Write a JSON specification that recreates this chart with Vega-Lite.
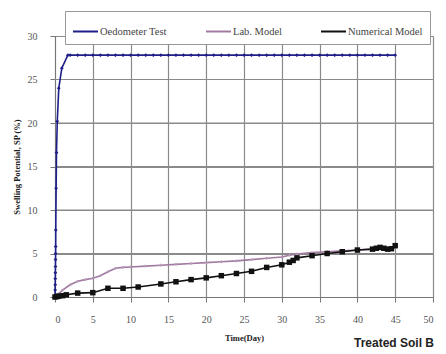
{
  "$schema": "https://vega.github.io/schema/vega-lite/v6.json",
  "width": 378,
  "height": 261,
  "autosize": {"type": "none"},
  "padding": {"left": 55, "top": 36, "right": 13, "bottom": 57},
  "background": "white",
  "title": {
    "text": "Treated Soil B",
    "orient": "bottom",
    "anchor": "start",
    "dx": 342,
    "offset": -4,
    "font": "Liberation Sans",
    "fontWeight": "bold",
    "fontSize": 12,
    "color": "#222"
  },
  "datasets": {
    "series": [
      {"time": 0, "sp": 0, "series": "Oedometer Test"},
      {"time": 0.01, "sp": 0.2, "series": "Oedometer Test"},
      {"time": 0.02, "sp": 0.8, "series": "Oedometer Test"},
      {"time": 0.03, "sp": 1.4, "series": "Oedometer Test"},
      {"time": 0.04, "sp": 2.1, "series": "Oedometer Test"},
      {"time": 0.05, "sp": 2.8, "series": "Oedometer Test"},
      {"time": 0.06, "sp": 3.5, "series": "Oedometer Test"},
      {"time": 0.07, "sp": 4.3, "series": "Oedometer Test"},
      {"time": 0.08, "sp": 5.0, "series": "Oedometer Test"},
      {"time": 0.09, "sp": 5.8, "series": "Oedometer Test"},
      {"time": 0.1, "sp": 7.7, "series": "Oedometer Test"},
      {"time": 0.15, "sp": 12.5, "series": "Oedometer Test"},
      {"time": 0.2, "sp": 16.6, "series": "Oedometer Test"},
      {"time": 0.3, "sp": 20.2, "series": "Oedometer Test"},
      {"time": 0.5, "sp": 24.0, "series": "Oedometer Test"},
      {"time": 0.9, "sp": 26.3, "series": "Oedometer Test"},
      {"time": 1.7, "sp": 27.8, "series": "Oedometer Test"},
      {"time": 2, "sp": 27.8, "series": "Oedometer Test"},
      {"time": 3, "sp": 27.8, "series": "Oedometer Test"},
      {"time": 4, "sp": 27.8, "series": "Oedometer Test"},
      {"time": 5, "sp": 27.8, "series": "Oedometer Test"},
      {"time": 6, "sp": 27.8, "series": "Oedometer Test"},
      {"time": 7, "sp": 27.8, "series": "Oedometer Test"},
      {"time": 8, "sp": 27.8, "series": "Oedometer Test"},
      {"time": 9, "sp": 27.8, "series": "Oedometer Test"},
      {"time": 10, "sp": 27.8, "series": "Oedometer Test"},
      {"time": 11, "sp": 27.8, "series": "Oedometer Test"},
      {"time": 12, "sp": 27.8, "series": "Oedometer Test"},
      {"time": 13, "sp": 27.8, "series": "Oedometer Test"},
      {"time": 14, "sp": 27.8, "series": "Oedometer Test"},
      {"time": 15, "sp": 27.8, "series": "Oedometer Test"},
      {"time": 16, "sp": 27.8, "series": "Oedometer Test"},
      {"time": 17, "sp": 27.8, "series": "Oedometer Test"},
      {"time": 18, "sp": 27.8, "series": "Oedometer Test"},
      {"time": 19, "sp": 27.8, "series": "Oedometer Test"},
      {"time": 20, "sp": 27.8, "series": "Oedometer Test"},
      {"time": 21, "sp": 27.8, "series": "Oedometer Test"},
      {"time": 22, "sp": 27.8, "series": "Oedometer Test"},
      {"time": 23, "sp": 27.8, "series": "Oedometer Test"},
      {"time": 24, "sp": 27.8, "series": "Oedometer Test"},
      {"time": 25, "sp": 27.8, "series": "Oedometer Test"},
      {"time": 26, "sp": 27.8, "series": "Oedometer Test"},
      {"time": 27, "sp": 27.8, "series": "Oedometer Test"},
      {"time": 28, "sp": 27.8, "series": "Oedometer Test"},
      {"time": 29, "sp": 27.8, "series": "Oedometer Test"},
      {"time": 30, "sp": 27.8, "series": "Oedometer Test"},
      {"time": 31, "sp": 27.8, "series": "Oedometer Test"},
      {"time": 32, "sp": 27.8, "series": "Oedometer Test"},
      {"time": 33, "sp": 27.8, "series": "Oedometer Test"},
      {"time": 34, "sp": 27.8, "series": "Oedometer Test"},
      {"time": 35, "sp": 27.8, "series": "Oedometer Test"},
      {"time": 36, "sp": 27.8, "series": "Oedometer Test"},
      {"time": 37, "sp": 27.8, "series": "Oedometer Test"},
      {"time": 38, "sp": 27.8, "series": "Oedometer Test"},
      {"time": 39, "sp": 27.8, "series": "Oedometer Test"},
      {"time": 40, "sp": 27.8, "series": "Oedometer Test"},
      {"time": 41, "sp": 27.8, "series": "Oedometer Test"},
      {"time": 42, "sp": 27.8, "series": "Oedometer Test"},
      {"time": 43, "sp": 27.8, "series": "Oedometer Test"},
      {"time": 44, "sp": 27.8, "series": "Oedometer Test"},
      {"time": 45, "sp": 27.8, "series": "Oedometer Test"},
      {"time": 0, "sp": 0, "series": "Lab. Model"},
      {"time": 0.5, "sp": 0.4, "series": "Lab. Model"},
      {"time": 1, "sp": 0.8, "series": "Lab. Model"},
      {"time": 2, "sp": 1.4, "series": "Lab. Model"},
      {"time": 3, "sp": 1.8, "series": "Lab. Model"},
      {"time": 4, "sp": 2.0, "series": "Lab. Model"},
      {"time": 5, "sp": 2.15, "series": "Lab. Model"},
      {"time": 6, "sp": 2.45, "series": "Lab. Model"},
      {"time": 7, "sp": 2.9, "series": "Lab. Model"},
      {"time": 8, "sp": 3.3, "series": "Lab. Model"},
      {"time": 9, "sp": 3.4, "series": "Lab. Model"},
      {"time": 10, "sp": 3.45, "series": "Lab. Model"},
      {"time": 12, "sp": 3.55, "series": "Lab. Model"},
      {"time": 14, "sp": 3.65, "series": "Lab. Model"},
      {"time": 16, "sp": 3.75, "series": "Lab. Model"},
      {"time": 18, "sp": 3.85, "series": "Lab. Model"},
      {"time": 20, "sp": 3.95, "series": "Lab. Model"},
      {"time": 22, "sp": 4.05, "series": "Lab. Model"},
      {"time": 24, "sp": 4.15, "series": "Lab. Model"},
      {"time": 26, "sp": 4.3, "series": "Lab. Model"},
      {"time": 28, "sp": 4.45, "series": "Lab. Model"},
      {"time": 30, "sp": 4.6, "series": "Lab. Model"},
      {"time": 31, "sp": 4.8, "series": "Lab. Model"},
      {"time": 32, "sp": 4.95, "series": "Lab. Model"},
      {"time": 34, "sp": 5.1, "series": "Lab. Model"},
      {"time": 36, "sp": 5.2, "series": "Lab. Model"},
      {"time": 38, "sp": 5.3, "series": "Lab. Model"},
      {"time": 40, "sp": 5.4, "series": "Lab. Model"},
      {"time": 42, "sp": 5.5, "series": "Lab. Model"},
      {"time": 44, "sp": 5.6, "series": "Lab. Model"},
      {"time": 45, "sp": 5.65, "series": "Lab. Model"},
      {"time": 0, "sp": 0, "series": "Numerical Model"},
      {"time": 0.25, "sp": 0.05, "series": "Numerical Model"},
      {"time": 0.5, "sp": 0.1, "series": "Numerical Model"},
      {"time": 1, "sp": 0.15, "series": "Numerical Model"},
      {"time": 1.5, "sp": 0.25, "series": "Numerical Model"},
      {"time": 3, "sp": 0.45, "series": "Numerical Model"},
      {"time": 5, "sp": 0.5, "series": "Numerical Model"},
      {"time": 7, "sp": 1.0, "series": "Numerical Model"},
      {"time": 9, "sp": 1.0, "series": "Numerical Model"},
      {"time": 11, "sp": 1.15, "series": "Numerical Model"},
      {"time": 14, "sp": 1.5, "series": "Numerical Model"},
      {"time": 16, "sp": 1.75, "series": "Numerical Model"},
      {"time": 18, "sp": 2.0, "series": "Numerical Model"},
      {"time": 20, "sp": 2.2, "series": "Numerical Model"},
      {"time": 22, "sp": 2.45, "series": "Numerical Model"},
      {"time": 24, "sp": 2.7, "series": "Numerical Model"},
      {"time": 26, "sp": 2.95, "series": "Numerical Model"},
      {"time": 28, "sp": 3.4, "series": "Numerical Model"},
      {"time": 30, "sp": 3.7, "series": "Numerical Model"},
      {"time": 31, "sp": 4.0, "series": "Numerical Model"},
      {"time": 31.5, "sp": 4.2, "series": "Numerical Model"},
      {"time": 32, "sp": 4.5, "series": "Numerical Model"},
      {"time": 34, "sp": 4.75, "series": "Numerical Model"},
      {"time": 36, "sp": 5.0, "series": "Numerical Model"},
      {"time": 38, "sp": 5.2, "series": "Numerical Model"},
      {"time": 40, "sp": 5.4, "series": "Numerical Model"},
      {"time": 42, "sp": 5.5, "series": "Numerical Model"},
      {"time": 42.5, "sp": 5.6, "series": "Numerical Model"},
      {"time": 43, "sp": 5.7, "series": "Numerical Model"},
      {"time": 43.5, "sp": 5.6, "series": "Numerical Model"},
      {"time": 44, "sp": 5.5, "series": "Numerical Model"},
      {"time": 44.5, "sp": 5.55, "series": "Numerical Model"},
      {"time": 45, "sp": 5.9, "series": "Numerical Model"}
    ],
    "yticks": [{"level": 5}, {"level": 10}, {"level": 15}, {"level": 20}, {"level": 25}]
  },
  "data": {"name": "series"},
  "config": {
    "view": {"stroke": "#999", "strokeWidth": 1},
    "font": "Liberation Serif",
    "axis": {
      "labelFont": "Liberation Serif",
      "labelFontSize": 10,
      "labelColor": "#555",
      "labelOverlap": false,
      "titleFont": "Liberation Serif",
      "titleFontWeight": "bold",
      "titleFontSize": 8.5,
      "titleColor": "#222",
      "domainColor": "#777",
      "tickColor": "#777",
      "tickSize": 5
    }
  },
  "encoding": {
    "x": {
      "field": "time",
      "type": "quantitative",
      "scale": {"domain": [0, 50], "nice": false},
      "axis": {"values": [0,5,10,15,20,25,30,35,40,45,50], "grid": true, "gridColor": "#8a8a8a", "gridOpacity": 1, "gridWidth": 1.2, "title": "Time(Day)", "labelPadding": 12, "titlePadding": 9}
    },
    "y": {
      "field": "sp",
      "type": "quantitative",
      "scale": {"domain": [0, 30], "nice": false},
      "axis": {"values": [0,5,10,15,20,25,30], "grid": true, "gridColor": "#8a8a8a", "gridOpacity": 1, "gridWidth": 1.2, "title": "Swelling Potential, SP (%)", "labelPadding": 13, "titlePadding": 6}
    }
  },
  "layer": [
    {
      "data": {"name": "yticks"},
      "mark": {"type": "rule", "color": "#8a8a8a", "strokeWidth": 1.2},
      "encoding": {
        "x": {"value": 0},
        "x2": {"value": 378},
        "y": {"field": "level", "type": "quantitative"}
      }
    },
    {
      "mark": {"type": "line", "strokeWidth": 1.6},
      "encoding": {
        "color": {
          "field": "series",
          "type": "nominal",
          "scale": {
            "domain": ["Oedometer Test", "Lab. Model", "Numerical Model"],
            "range": ["#1f1f8a", "#a07aa0", "#111111"]
          },
          "legend": {
            "title": null,
            "orient": "none",
            "direction": "horizontal",
            "legendX": 10,
            "legendY": -25,
            "padding": 7,
            "strokeColor": "#999",
            "fillColor": "white",
            "symbolType": "stroke",
            "symbolSize": 625,
            "symbolStrokeWidth": 2,
            "labelFont": "Liberation Serif",
            "labelFontSize": 10.5,
            "labelColor": "#444",
            "labelOffset": 1,
            "columnPadding": 35
          }
        }
      }
    },
    {
      "transform": [{"filter": "datum.series === 'Oedometer Test'"}],
      "mark": {"type": "point", "filled": true, "opacity": 1, "shape": "diamond", "size": 14, "color": "#1f1f8a"}
    },
    {
      "transform": [{"filter": "datum.series === 'Lab. Model'"}],
      "mark": {"type": "point", "filled": true, "opacity": 1, "shape": "cross", "size": 8, "color": "#b898b8"}
    },
    {
      "transform": [{"filter": "datum.series === 'Numerical Model'"}],
      "mark": {"type": "point", "filled": true, "opacity": 1, "shape": "square", "size": 30, "color": "#111111"}
    }
  ]
}
